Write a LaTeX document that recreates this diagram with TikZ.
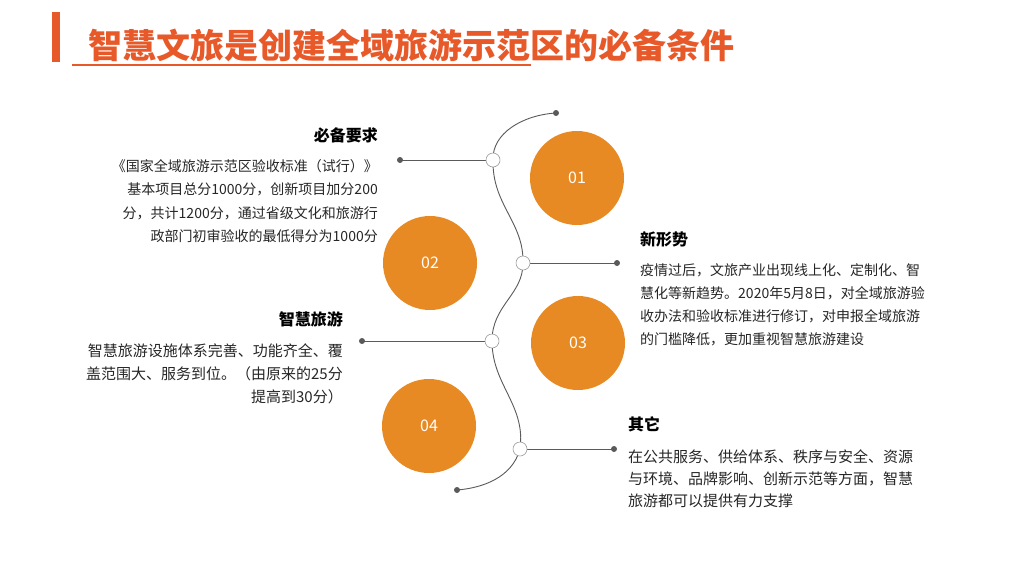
\documentclass[tikz,border=0pt]{standalone}
\usepackage{fontspec}
\setmainfont{Noto Sans CJK SC}
\usetikzlibrary{backgrounds}
\definecolor{titleor}{HTML}{E8592A}
\definecolor{circor}{HTML}{E88A24}
\definecolor{lgray}{HTML}{5A5A5A}
\definecolor{bodytxt}{HTML}{262626}
\begin{document}
\begin{tikzpicture}[x=1pt,y=-1pt,
  numc/.style={circle,fill=circor,minimum size=94pt,inner sep=0pt,text=white,font=\fontsize{16}{16}\selectfont},
  knot/.style={circle,draw=lgray!60,line width=0.6pt,fill=white,minimum size=14pt,inner sep=0pt},
  dotn/.style={circle,fill=lgray,minimum size=6pt,inner sep=0pt},
  conn/.style={draw=lgray,line width=1pt},
  head/.style={inner sep=0pt,font=\fontsize{16}{16}\selectfont\bfseries,text=black},
  bodyr/.style={inner sep=0pt,align=right,text=bodytxt,font=\fontsize{14}{23.5}\selectfont},
  bodyl/.style={inner sep=0pt,align=left,text=bodytxt,font=\fontsize{14}{23}\selectfont}]
\useasboundingbox (0,0) rectangle (1024,576);
% title
\fill[titleor] (52,12) rectangle (60,62);
\node[inner sep=0pt,anchor=base west,text=titleor,font=\fontsize{34}{34}\selectfont\bfseries] (title) at (88,58) {智慧文旅是创建全域旅游示范区的必备条件};
\coordinate (ul1) at (72,65);
\coordinate (ul2) at (531,65);
\draw[titleor,line width=1.2pt] (ul1) -- (ul2);
% circles
\node[numc] (n1) at (577,178) {01};
\node[numc] (n2) at (430,263) {02};
\node[numc] (n3) at (578,343) {03};
\node[numc] (n4) at (429,426) {04};
% knots and dots
\node[dotn] (d0) at (556,113) {};
\node[dotn] (d5) at (457,490) {};
\node[knot] (k1) at (493,160) {};
\node[knot] (k2) at (523,263) {};
\node[knot] (k3) at (492,341) {};
\node[knot] (k4) at (520,449) {};
\node[dotn] (e1) at (400,160) {};
\node[dotn] (e2) at (617,263) {};
\node[dotn] (e3) at (362,341) {};
\node[dotn] (e4) at (614,449) {};
\begin{scope}[on background layer]
\fill[white] (0,0) rectangle (1024,576);
\draw[conn,line width=0.9pt] (d0.center) .. controls (523,115) and (492,133) .. (k1.center)
  .. controls (492,205) and (524,222) .. (k2.center)
  .. controls (523,295) and (492,305) .. (k3.center)
  .. controls (492,385) and (526,405) .. (k4.center)
  .. controls (512,478) and (482,488) .. (d5.center);
\draw[conn] (e1.center) -- (k1);
\draw[conn] (k2) -- (e2.center);
\draw[conn] (e3.center) -- (k3);
\draw[conn] (k4) -- (e4.center);
\end{scope}
% texts
\node[head,anchor=base east] (h1) at (378,141) {必备要求};
\node[bodyr,anchor=north east] (b1) at (378,159) {《国家全域旅游示范区验收标准（试行）》\\基本项目总分1000分，创新项目加分200\\分，共计1200分，通过省级文化和旅游行\\政部门初审验收的最低得分为1000分};
\node[head,anchor=base west] (h2) at (640,245) {新形势};
\node[bodyl,anchor=north west] (b2) at (640,263) {疫情过后，文旅产业出现线上化、定制化、智\\慧化等新趋势。2020年5月8日，对全域旅游验\\收办法和验收标准进行修订，对申报全域旅游\\的门槛降低，更加重视智慧旅游建设};
\node[head,anchor=base east] (h3) at (343,325) {智慧旅游};
\node[bodyr,anchor=north east,font=\fontsize{15}{23}\selectfont] (b3) at (343,344) {智慧旅游设施体系完善、功能齐全、覆\\盖范围大、服务到位。（由原来的25分\\提高到30分）};
\node[head,anchor=base west] (h4) at (628,430) {其它};
\node[bodyl,anchor=north west,font=\fontsize{15}{22}\selectfont] (b4) at (628,450) {在公共服务、供给体系、秩序与安全、资源\\与环境、品牌影响、创新示范等方面，智慧\\旅游都可以提供有力支撑};
\end{tikzpicture}
\end{document}
